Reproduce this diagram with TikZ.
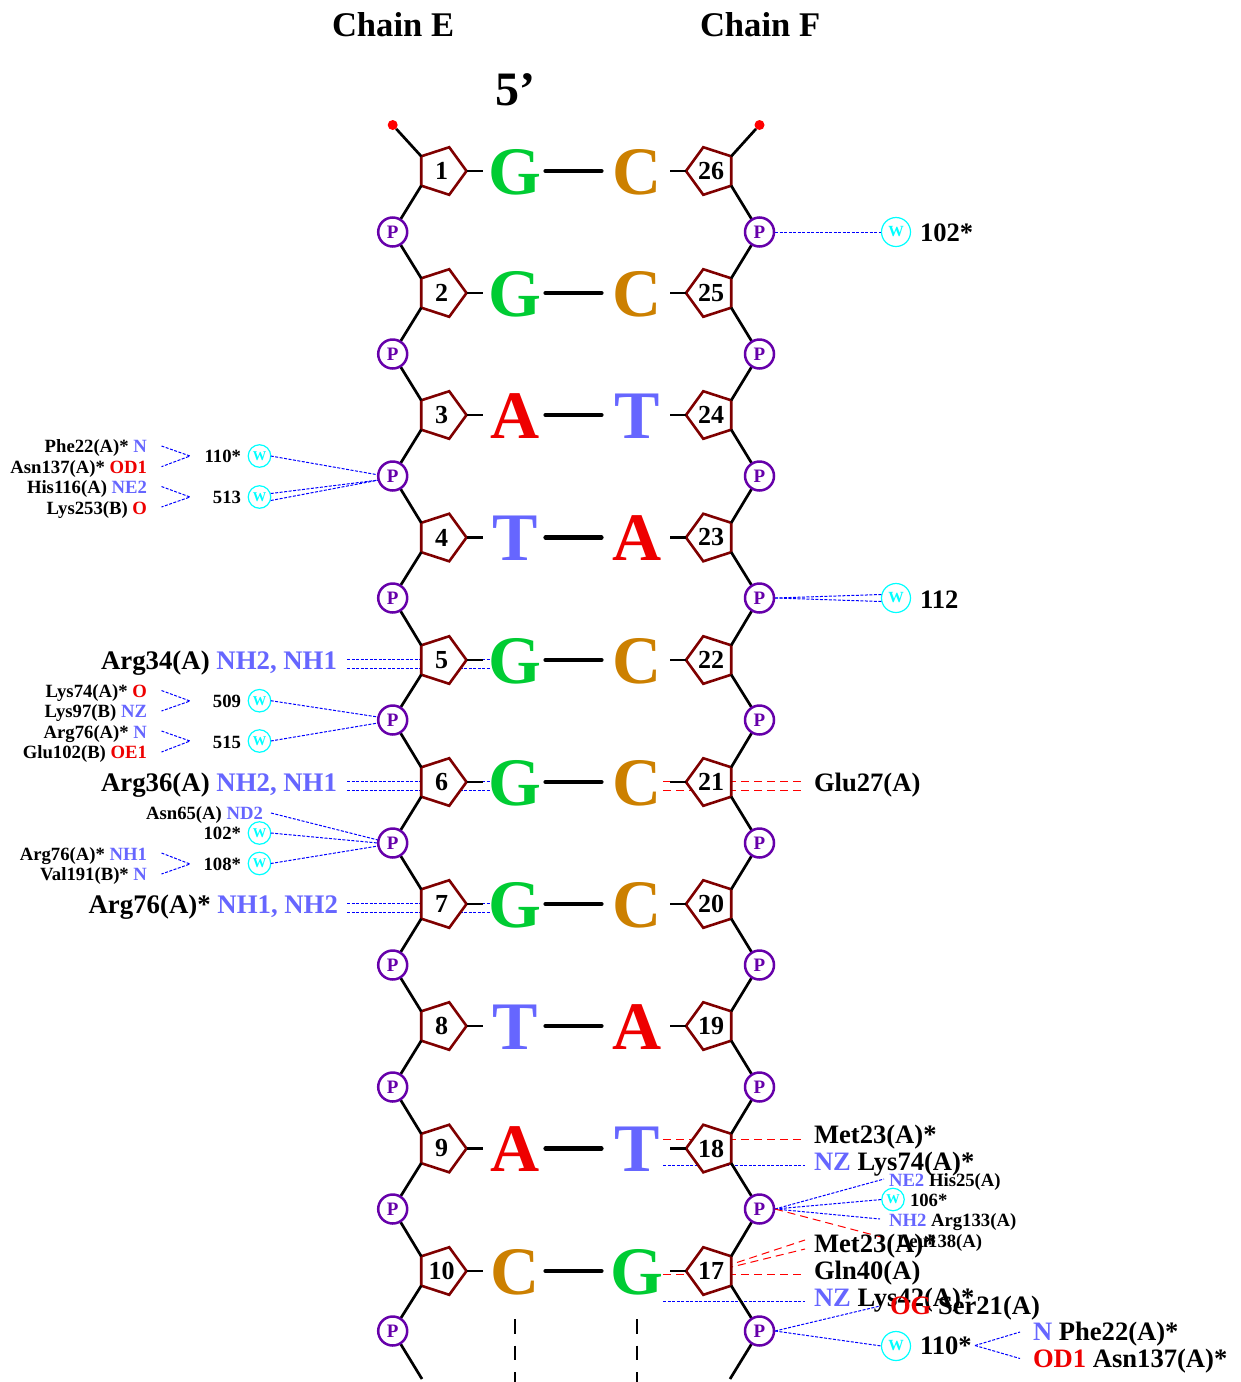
\documentclass[tikz,border=0pt]{standalone}
\usepackage{fontspec}
\setmainfont{Liberation Serif}
\usetikzlibrary{shapes.geometric}
\definecolor{blu}{HTML}{6666FF}
\definecolor{rd}{HTML}{EE0000}
\definecolor{grn}{HTML}{00CC33}
\definecolor{org}{HTML}{CC8000}
\definecolor{pur}{HTML}{6600AA}
\definecolor{mar}{HTML}{7F0000}
\definecolor{wcy}{HTML}{00FFFF}
\newcommand{\fs}[1]{\fontsize{#1}{#1}\selectfont\bfseries}
\newcommand{\B}[1]{\textcolor{blu}{#1}}
\newcommand{\R}[1]{\textcolor{rd}{#1}}
\tikzset{
 x=1pt,y=-1pt,
 lab/.style={inner sep=0,outer sep=0},
 smr/.style={lab,anchor=base east,font=\fs{18.7}},
 wnr/.style={lab,anchor=base east,font=\fs{18.7}},
 smrl/.style={lab,anchor=base west,font=\fs{18.7}},
 bigr/.style={lab,anchor=base east,font=\fs{26.8}},
 bigl/.style={lab,anchor=base west,font=\fs{26.6}},
 base/.style={lab,anchor=base,font=\fs{68}},
 pent/.style={regular polygon,regular polygon sides=5,minimum size=50pt,inner sep=0,outer sep=0,draw=mar,fill=white,line width=2.6pt,font=\fs{26}},
 pl/.style={pent,shape border rotate=-90},
 pr/.style={pent,shape border rotate=90},
 phos/.style={circle,minimum size=29pt,inner sep=0,outer sep=0,draw=pur,fill=white,line width=2.5pt,text=pur,font=\fs{19}},
 wsm/.style={circle,minimum size=22.5pt,inner sep=0,outer sep=0,draw=wcy,fill=white,line width=1.2pt,text=wcy,font=\fs{13.5}},
 wbg/.style={circle,minimum size=29pt,inner sep=0,outer sep=0,draw=wcy,fill=white,line width=1.2pt,text=wcy,font=\fs{15.5}},
 bb/.style={line width=2.7pt,black},
 stub/.style={line width=2.7pt,black},
 pair/.style={line width=4.2pt,black,line cap=round},
 hb/.style={blue,line width=1pt,dash pattern=on 3pt off 1.5pt},
 nb/.style={red,line width=1pt,dash pattern=on 8pt off 5pt},
}
\begin{document}
\begin{tikzpicture}
\useasboundingbox (0,0) rectangle (1241,1382);
% dashed contacts (behind everything)
\coordinate (a5u) at (347,659.3); \coordinate (a5ue) at (490,659.3);
\coordinate (a5d) at (347,668.3); \coordinate (a5de) at (490,668.3);
\coordinate (a6u) at (347,781.3); \coordinate (a6ue) at (490,781.3);
\coordinate (a6d) at (347,790.3); \coordinate (a6de) at (490,790.3);
\coordinate (a7u) at (347,903.3); \coordinate (a7ue) at (490,903.3);
\coordinate (a7d) at (347,912.3); \coordinate (a7de) at (490,912.3);
\draw[hb] (a5u)--(a5ue); \draw[hb] (a5d)--(a5de);
\draw[hb] (a6u)--(a6ue); \draw[hb] (a6d)--(a6de);
\draw[hb] (a7u)--(a7ue); \draw[hb] (a7d)--(a7de);
\coordinate (r21a) at (663,781.3); \coordinate (r21ae) at (805,781.3);
\coordinate (r21b) at (663,790.3); \coordinate (r21be) at (805,790.3);
\draw[nb] (r21a)--(r21ae); \draw[nb] (r21b)--(r21be);
\coordinate (r18a) at (663,1139.3); \coordinate (r18ae) at (805,1139.3);
\coordinate (r18b) at (663,1165.7); \coordinate (r18be) at (805,1165.7);
\draw[nb] (r18a)--(r18ae); \draw[hb] (r18b)--(r18be);
\coordinate (r17a) at (663,1274.7); \coordinate (r17ae) at (805,1274.7);
\coordinate (r17b) at (663,1301.7); \coordinate (r17be) at (805,1301.7);
\coordinate (r17o) at (700,1274.7);
\coordinate (r17c) at (805,1240); \coordinate (r17d) at (805,1249);
\draw[nb] (r17a)--(r17ae); \draw[hb] (r17b)--(r17be);
\draw[nb] (r17o)--(r17c); \draw[nb] (r17o)--(r17d);

% phosphates and sugars: backbone
\foreach \n/\y in {1/232,2/354,3/476,4/598,5/720,6/843,7/965,8/1087,9/1209,10/1331}{
  \coordinate (PLc\n) at (392.7,\y);
  \coordinate (PRc\n) at (759.5,\y);
}
\foreach \n/\y in {1/171,2/293,3/415,4/537.5,5/660,6/782,7/904,8/1026,9/1148.5,10/1271}{
  \node[pl] (SL\n) at (441.5,\y) {\n};
}
\foreach \n/\l/\y in {1/26/171,2/25/293,3/24/415,4/23/537.5,5/22/660,6/21/782,7/20/904,8/19/1026,9/18/1148.5,10/17/1271}{
  \node[pr] (SR\n) at (711,\y) {\l};
}
\node[circle,fill=red,minimum size=10pt,inner sep=0] (dotL) at (392.7,125) {};
\node[circle,fill=red,minimum size=10pt,inner sep=0] (dotR) at (759.5,125) {};
\draw[bb] (dotL)--(SL1.corner 3);
\draw[bb] (dotR)--(SR1.corner 4);
\foreach \n/\m in {1/2,2/3,3/4,4/5,5/6,6/7,7/8,8/9,9/10}{
  \draw[bb] (SL\n.corner 4)--(PLc\n)--(SL\m.corner 3);
  \draw[bb] (SR\n.corner 3)--(PRc\n)--(SR\m.corner 4);
}
\coordinate (endL) at (422,1379); \coordinate (endR) at (730,1379);
\draw[bb] (SL10.corner 4)--(PLc10)--(endL);
\draw[bb] (SR10.corner 3)--(PRc10)--(endR);

% base pairs
\foreach \n/\y/\a/\ca/\b/\cb in {1/171/G/grn/C/org,2/293/G/grn/C/org,3/415/A/rd/T/blu,4/537.5/T/blu/A/rd,5/660/G/grn/C/org,6/782/G/grn/C/org,7/904/G/grn/C/org,8/1026/T/blu/A/rd,9/1148.5/A/rd/T/blu,10/1271/C/org/G/grn}{
  \coordinate (stL\n) at (482.7,\y); \coordinate (stR\n) at (670,\y);
  \draw[stub] (SL\n.corner 1)--(stL\n);
  \draw[stub] (SR\n.corner 1)--(stR\n);
  \node[base,text=\ca] (BL\n) at (515,\y+23) {\a};
  \node[base,text=\cb] (BR\n) at (637,\y+23) {\b};
  \coordinate (pa\n) at (545.5,\y); \coordinate (pb\n) at (601.5,\y);
  \draw[pair] (pa\n)--(pb\n);
}
\coordinate (dAs) at (515,1319); \coordinate (dAe) at (515,1382);
\coordinate (dBs) at (637,1319); \coordinate (dBe) at (637,1382);
\draw[line width=2.4pt,dash pattern=on 14.7pt off 12pt] (dAs)--(dAe);
\draw[line width=2.4pt,dash pattern=on 14.7pt off 12pt] (dBs)--(dBe);

% water nodes
\node[wsm] (w110) at (259.5,456) {W};
\node[wsm] (w513) at (259.5,497) {W};
\node[wsm] (w509) at (259.5,700.7) {W};
\node[wsm] (w515) at (259.5,741) {W};
\node[wsm] (w102) at (259.5,833) {W};
\node[wsm] (w108) at (259.5,863.5) {W};
\node[wsm] (w106) at (893,1199.5) {W};
\node[wbg] (W102) at (896,232) {W};
\node[wbg] (W112) at (896,598) {W};
\node[wbg] (W110) at (896,1346) {W};

\coordinate (cA1) at (161.5,446); \coordinate (cA2) at (161.5,466.7); \coordinate (cAm) at (190,456);
\coordinate (cB1) at (161.5,486.5); \coordinate (cB2) at (161.5,507); \coordinate (cBm) at (190,497);
\coordinate (cC1) at (161.5,690.5); \coordinate (cC2) at (161.5,711); \coordinate (cCm) at (190,701);
\coordinate (cD1) at (161.5,731); \coordinate (cD2) at (161.5,752); \coordinate (cDm) at (190,741);
\coordinate (cE1) at (161.5,853); \coordinate (cE2) at (161.5,874); \coordinate (cEm) at (190,864);
\foreach \k in {A,B,C,D,E}{ \draw[hb] (c\k1)--(c\k m)--(c\k2); }
\coordinate (pl3) at (379,475); \coordinate (pl3b) at (379,480);
\draw[hb] (w110.east)--(pl3);
\draw[hb] ([yshift=3.5pt]w513.east)--(pl3b);
\draw[hb] ([yshift=-3.5pt]w513.east)--(pl3b);
\coordinate (pl5) at (378,717); \coordinate (pl5b) at (378,723);
\draw[hb] (w509.east)--(pl5); \draw[hb] (w515.east)--(pl5b);
\coordinate (nd2) at (271,813); \coordinate (pl6a) at (378,840); \coordinate (pl6b) at (378,843); \coordinate (pl6c) at (378,846);
\draw[hb] (nd2)--(pl6a); \draw[hb] (w102.east)--(pl6b); \draw[hb] (w108.east)--(pl6c);
\coordinate (pr1) at (775,232.3);
\coordinate (wr1) at (881,232.3);
\draw[hb] (pr1)--(wr1);
\coordinate (pr4) at (775,598);
\draw[hb] (pr4)--([yshift=3.5pt]W112.west);
\draw[hb] (pr4)--([yshift=-3.5pt]W112.west);
\coordinate (pr9) at (775,1209);
\coordinate (ne2) at (884,1179); \coordinate (nh2) at (880,1219); \coordinate (leu) at (885,1238);
\draw[hb] (pr9)--(ne2); \draw[hb] (pr9)--(w106.west); \draw[hb] (pr9)--(nh2); \draw[nb] (pr9)--(leu);
\coordinate (pr10) at (775,1331);
\coordinate (og) at (880,1306);
\draw[hb] (pr10)--(og); \draw[hb] (pr10)--(W110.west);
\coordinate (wx) at (975,1345.5); \coordinate (nn) at (1020,1332); \coordinate (od) at (1020,1358.5);
\draw[hb] (wx)--(nn); \draw[hb] (wx)--(od);

% phosphates on top
\foreach \n/\y in {1/232,2/354,3/476,4/598,5/720,6/843,7/965,8/1087,9/1209,10/1331}{
  \node[phos] (PL\n) at (PLc\n) {P};
  \node[phos] (PR\n) at (PRc\n) {P};
}

% headings
\node[lab,anchor=base west,font=\fs{34.6}] (chE) at (332,36) {Chain E};
\node[lab,anchor=base west,font=\fs{34.6}] (chF) at (700,36) {Chain F};
\node[lab,anchor=base west,font=\fs{48}] (five) at (495,105) {5’};

% left small labels
\node[smr] (l1) at (147,452.5) {Phe22(A)* \B{N}};
\node[smr] (l2) at (147,473) {Asn137(A)* \R{OD1}};
\node[smr] (l3) at (147,493) {His116(A) \B{NE2}};
\node[smr] (l4) at (147,514) {Lys253(B) \R{O}};
\node[smr] (l5) at (147,697) {Lys74(A)* \R{O}};
\node[smr] (l6) at (147,717) {Lys97(B) \B{NZ}};
\node[smr] (l7) at (147,738) {Arg76(A)* \B{N}};
\node[smr] (l8) at (147,758) {Glu102(B) \R{OE1}};
\node[smr] (l9) at (263,819) {Asn65(A) \B{ND2}};
\node[smr] (l10) at (147,860) {Arg76(A)* \B{NH1}};
\node[smr] (l11) at (147,880) {Val191(B)* \B{N}};
\node[wnr] (t110) at (241,462.5) {110*};
\node[wnr] (t513) at (241,503.5) {513};
\node[wnr] (t509) at (241,707) {509};
\node[wnr] (t515) at (241,748) {515};
\node[wnr] (t102) at (241,839.5) {102*};
\node[wnr] (t108) at (241,870) {108*};
% big left
\node[bigr] (b1) at (337,669) {Arg34(A) \B{NH2, NH1}};
\node[bigr] (b2) at (337,791) {Arg36(A) \B{NH2, NH1}};
\node[bigr] (b3) at (338,913) {Arg76(A)* \B{NH1, NH2}};
% right
\node[bigl] (r1) at (920,241) {102*};
\node[bigl] (r2) at (920,608) {112};
\node[bigl] (r3) at (814,791.5) {Glu27(A)};
\node[bigl] (r4) at (814,1143) {Met23(A)*};
\node[bigl] (r5) at (814,1170) {\B{NZ} Lys74(A)*};
\node[smrl] (r6) at (889,1186) {\B{NE2} His25(A)};
\node[smrl] (r7) at (910,1206) {106*};
\node[smrl] (r8) at (889,1226) {\B{NH2} Arg133(A)};
\node[smrl] (r10) at (897,1247) {Leu138(A)};
\node[bigl] (r9) at (814,1252) {Met23(A)*};
\node[bigl] (r11) at (814,1279) {Gln40(A)};
\node[bigl] (r12) at (814,1306.5) {\B{NZ} Lys42(A)*};
\node[bigl] (r13) at (890,1314) {\R{OG} Ser21(A)};
\node[bigl] (r14) at (920,1354) {110*};
\node[bigl] (r15) at (1033,1340.5) {\B{N} Phe22(A)*};
\node[bigl] (r16) at (1033,1367.5) {\R{OD1} Asn137(A)*};
\end{tikzpicture}
\end{document}
